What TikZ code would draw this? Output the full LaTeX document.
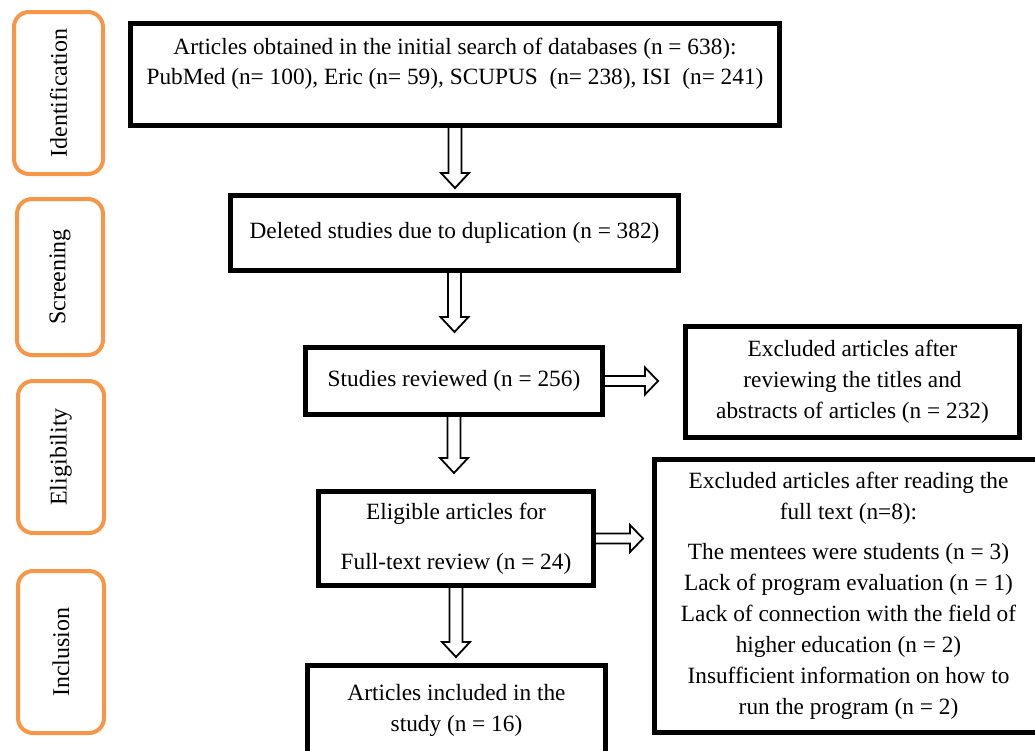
\documentclass[tikz,border=0pt]{standalone}
\usepackage{fontspec}
\setmainfont{Liberation Serif}
\usetikzlibrary{calc}
\definecolor{stageorange}{HTML}{F79646}
\tikzset{
  flowbox/.style={draw=black, line width=5pt, rectangle, align=center, inner sep=0pt,
    font=\fontsize{23.3pt}{31pt}\selectfont},
  stagebox/.style={draw=stageorange, line width=4pt, rounded corners=15pt, rectangle,
    rotate=90, inner sep=0pt, font=\fontsize{24pt}{28pt}\selectfont},
  blockarrow/.style={draw=black, line width=1.8pt, line join=miter}
}
\newcommand\dnarrow[3]{%
  \draw[blockarrow] let \p1=(#1.south), \p2=(#2.north) in
    (\x1-6.5pt,\y1+2pt) -- (\x1-6.5pt,\y2+#3pt+15pt) -- (\x1-14pt,\y2+#3pt+15pt)
    -- (\x1,\y2+#3pt) -- (\x1+14pt,\y2+#3pt+15pt) -- (\x1+6.5pt,\y2+#3pt+15pt)
    -- (\x1+6.5pt,\y1+2pt);}
\newcommand\rtarrow[3]{%
  \draw[blockarrow] let \p1=(#1.east), \p2=(#2.west) in
    (\x1-2pt,\y1+5pt) -- (\x2-#3pt-13pt,\y1+5pt) -- (\x2-#3pt-13pt,\y1+13.5pt)
    -- (\x2-#3pt,\y1) -- (\x2-#3pt-13pt,\y1-13.5pt) -- (\x2-#3pt-13pt,\y1-5pt)
    -- (\x1-2pt,\y1-5pt);}
\begin{document}
\begin{tikzpicture}[x=1pt, y=-1pt]
\useasboundingbox (0,0) rectangle (1035,750);
% stage labels
\node[stagebox, minimum width=162pt, minimum height=89pt] (ident) at (58.5,93) {Identification};
\node[stagebox, minimum width=156pt, minimum height=86pt] (screen) at (60,277) {Screening};
\node[stagebox, minimum width=152pt, minimum height=86pt] (elig) at (61,457) {Eligibility};
\node[stagebox, minimum width=162pt, minimum height=86pt] (incl) at (61,652) {Inclusion};
% flow boxes
\node[flowbox, minimum width=649pt, minimum height=102pt] (top) at (455,74.5)
  {Articles obtained in the initial search of databases (n = 638):\\[-1pt]
   PubMed (n= 100), Eric (n= 59), SCUPUS\ \ (n= 238), ISI\ \ (n= 241)\\[-5pt] \mbox{}};
\node[flowbox, minimum width=448pt, minimum height=75pt] (dup) at (454.5,233)
  {Deleted studies due to duplication (n = 382)};
\node[flowbox, minimum width=297pt, minimum height=67pt] (rev) at (454,381)
  {Studies reviewed (n = 256)};
\node[flowbox, minimum width=334pt, minimum height=111pt] (exa) at (852.5,382)
  {Excluded articles after\\ reviewing the titles and\\ abstracts of articles (n = 232)};
\node[flowbox, minimum width=275pt, minimum height=94pt] (elg) at (456,538.5)
  {Eligible articles for\\[19pt] Full-text review (n = 24)};
\node[flowbox, minimum width=388pt, minimum height=273pt] (exb) at (848.5,596)
  {Excluded articles after reading the\\ full text (n=8):\\[9pt]
   The mentees were students (n = 3)\\ Lack of program evaluation (n = 1)\\
   Lack of connection with the field of\\ higher education (n = 2)\\
   Insufficient information on how to\\ run the program (n = 2)};
\node[flowbox, minimum width=298pt, minimum height=89pt] (inc) at (456.5,710)
  {Articles included in the\\ study (n = 16)};
% arrows
\dnarrow{top}{dup}{5}
\dnarrow{dup}{rev}{13}
\dnarrow{rev}{elg}{16}
\dnarrow{elg}{inc}{6}
\rtarrow{rev}{exa}{25}
\rtarrow{elg}{exb}{9}
\end{tikzpicture}
\end{document}
